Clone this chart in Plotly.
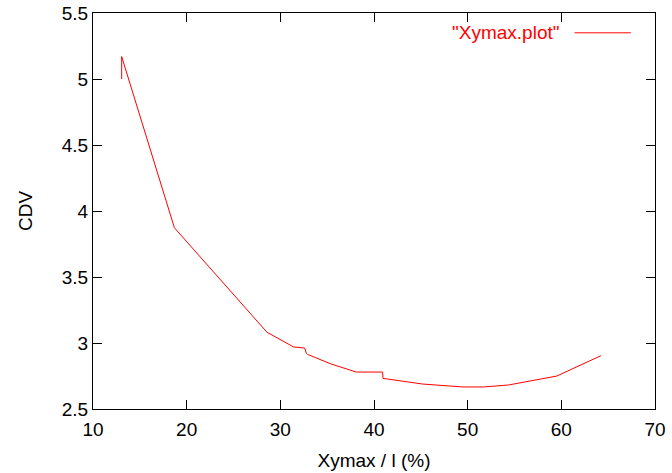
import plotly.graph_objects as go

# CDV as a function of Xymax / l (%)
xymax_pct = [13.06, 13.06, 18.69, 28.58, 31.42, 32.60, 32.78, 32.90, 35.34,
             38.10, 40.92, 40.96, 45.20, 49.50, 51.70, 54.37, 59.53, 64.23]
cdv = [5.00, 5.17, 3.873, 3.081, 2.970, 2.962, 2.922, 2.914, 2.843,
       2.780, 2.780, 2.732, 2.689, 2.667, 2.667, 2.682, 2.750, 2.904]

x_ticks = [10, 20, 30, 40, 50, 60, 70]
y_ticks = [2.5, 3, 3.5, 4, 4.5, 5, 5.5]
y_tick_text = ["2.5", "3", "3.5", "4", "4.5", "5", "5.5"]
series_name = '"Xymax.plot"'

RED = "#ff0000"
FONT = "Liberation Sans, Arial, sans-serif"
FS = 19

fig = go.Figure()
fig.add_trace(go.Scatter(x=xymax_pct, y=cdv, mode="lines", name=series_name,
                         line=dict(color=RED, width=1), showlegend=False))

axis_common = dict(
    showgrid=False, zeroline=False, showline=True, linecolor="black",
    linewidth=1, mirror="allticks", ticks="inside", ticklen=9,
    tickcolor="black", tickwidth=1, automargin=False,
    tickfont=dict(family=FONT, size=FS, color="black"),
)

fig.update_layout(
    width=672, height=473,
    margin=dict(l=93, r=17, t=13, b=64),
    paper_bgcolor="white", plot_bgcolor="white",
    font=dict(family=FONT, size=FS, color="black"),
    xaxis=dict(range=[10, 70], tickvals=x_ticks, ticklabelstandoff=3,
               title=dict(text="Xymax / l (%)", standoff=14,
                          font=dict(family=FONT, size=FS)),
               **axis_common),
    yaxis=dict(range=[2.5, 5.5], tickvals=y_ticks, ticktext=y_tick_text,
               title=dict(text="CDV", standoff=24,
                          font=dict(family=FONT, size=FS)),
               **axis_common),
)

# Key in the top-right corner: label followed by a line sample
fig.add_annotation(x=0.832, y=0.95, xref="paper", yref="paper",
                   text=series_name, showarrow=False, xanchor="right",
                   yanchor="middle", font=dict(family=FONT, size=FS, color=RED))
fig.add_shape(type="line", xref="paper", yref="paper",
              x0=0.857, x1=0.957, y0=0.95, y1=0.95,
              line=dict(color=RED, width=1))

fig.write_html("out.html")
